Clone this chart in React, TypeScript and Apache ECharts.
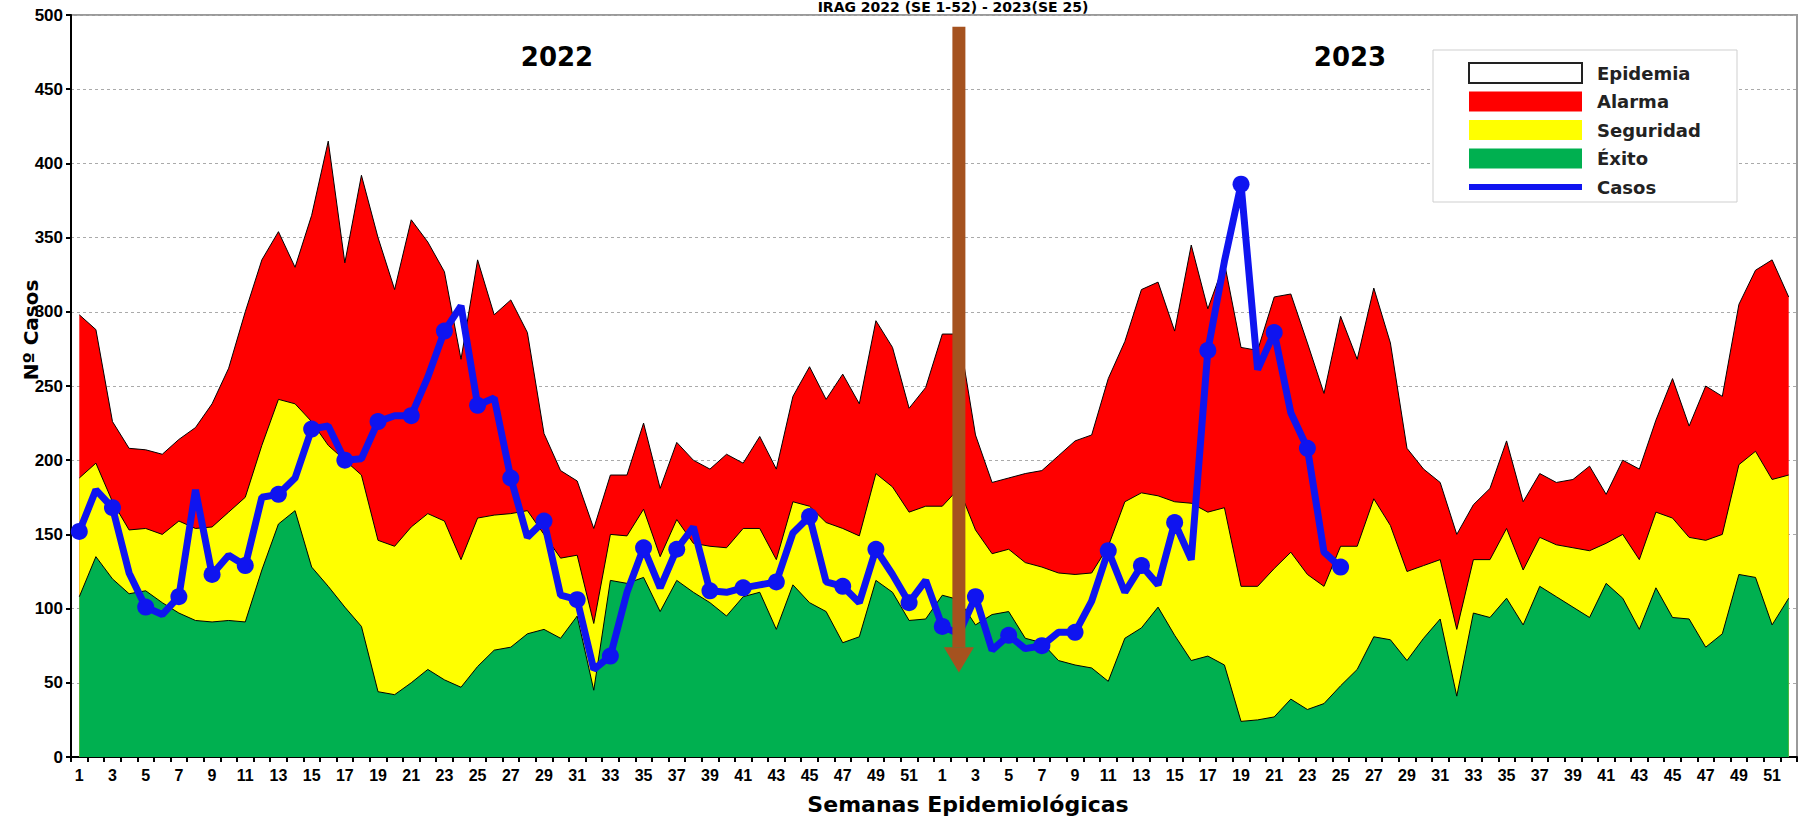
import React, { useEffect, useRef } from "react";
import * as echarts from "echarts";

// ---- categories / tick labels ----
const WEEKS = Array.from({ length: 52 }, (_, i) => String(i + 1));
const YEARS = ["2022", "2023"];
const categories = YEARS.flatMap((y) => WEEKS.map((w) => `${y}-${w}`));

// ---- channel boundaries (cumulative tops) ----
const exito2022 = [108, 135, 120, 110, 112, 104, 97, 92, 91, 92, 91, 126, 157,
  166, 128, 115, 101, 88, 44, 42, 50, 59, 52, 47, 61, 72,
  74, 83, 86, 80, 95, 45, 119, 117, 121, 98, 119, 111, 104,
  95, 108, 111, 86, 116, 104, 98, 77, 81, 119, 111, 92, 93];
const exito2023 = [109, 106, 89, 96, 98, 80, 77, 65, 62, 60, 51, 80, 87,
  101, 82, 65, 68, 62, 24, 25, 27, 39, 32, 36, 48, 59,
  81, 79, 65, 80, 93, 41, 97, 94, 107, 89, 115, 108, 101,
  94, 117, 107, 86, 114, 94, 93, 74, 83, 123, 121, 89, 107];

const seguridad2022 = [188, 198, 172, 153, 154, 150, 159, 154, 155, 165, 175, 210, 241,
  238, 226, 210, 200, 190, 146, 142, 155, 164, 159, 133, 161, 163,
  164, 166, 150, 134, 136, 90, 150, 149, 167, 135, 160, 144, 142,
  141, 154, 154, 133, 172, 169, 158, 154, 149, 191, 182, 165, 169];
const seguridad2023 = [169, 181, 153, 137, 140, 131, 128, 124, 123, 124, 142, 172, 178,
  176, 172, 171, 165, 168, 115, 115, 127, 138, 123, 115, 142, 142,
  174, 156, 125, 129, 133, 86, 133, 133, 154, 126, 148, 143, 141,
  139, 144, 150, 133, 165, 161, 148, 146, 150, 197, 206, 187, 190];

const alarma2022 = [298, 288, 226, 208, 207, 204, 214, 222, 238, 262, 300, 335, 354,
  330, 365, 415, 333, 392, 350, 315, 362, 347, 327, 268, 335, 298,
  308, 286, 218, 193, 186, 154, 190, 190, 225, 181, 212, 200, 194,
  204, 198, 216, 194, 243, 263, 241, 258, 238, 294, 276, 235, 249];
const alarma2023 = [285, 285, 217, 185, 188, 191, 193, 203, 213, 217, 255, 280, 315,
  320, 287, 345, 302, 333, 276, 274, 310, 312, 279, 245, 297, 268,
  316, 279, 208, 194, 185, 150, 170, 181, 213, 172, 191, 185, 187,
  196, 177, 200, 194, 227, 255, 223, 250, 243, 305, 328, 335, 310];

// ---- observed cases ----
const casos2022 = [152, 180, 168, 124, 101, 96, 108, 180, 123, 136, 129, 175, 177,
  188, 221, 223, 200, 201, 226, 230, 230, 256, 287, 304, 237, 242,
  188, 148, 159, 109, 106, 59, 68, 111, 141, 114, 140, 155, 112,
  111, 114, 116, 118, 151, 162, 118, 115, 104, 140, 123, 104, 119];
const casos2023 = [88, 83, 108, 72, 82, 73, 75, 84, 84, 105, 139, 111, 129,
  116, 158, 133, 274, 334, 386, 261, 286, 232, 208, 138, 128];

const legendNames = ["Epidemia", "Alarma", "Seguridad", "Éxito", "Casos"];
const COLORS = { epidemia: "#ffffff", alarma: "#ff0000", seguridad: "#ffff00", exito: "#00b050", casos: "#0f14f0" };

const TITLE = "IRAG 2022 (SE 1-52) - 2023(SE 25)";
const ARROW_WEEK = "2023-2";

export default function App() {
  const ref = useRef<HTMLDivElement>(null);
  useEffect(() => {
    document.body.style.margin = "0";
    const chart = echarts.init(ref.current!, null, { renderer: "svg" });
    const FONT = "DejaVu Sans";
    const exito = [...exito2022, ...exito2023];
    const seguridad = [...seguridad2022, ...seguridad2023];
    const alarma = [...alarma2022, ...alarma2023];
    const casos: (number | null)[] = [...casos2022, ...casos2023];
    while (casos.length < categories.length) casos.push(null);

    const legendColors = [COLORS.epidemia, COLORS.alarma, COLORS.seguridad, COLORS.exito, COLORS.casos];
    const legendEls: any[] = [
      { type: "rect", shape: { x: 1433, y: 50, width: 304, height: 152 }, style: { fill: "#fff", stroke: "#cfcfcf", lineWidth: 1 }, z: 100 },
    ];
    legendNames.forEach((n, i) => {
      const cy = 73 + i * 28.5;
      const isLine = i === 4;
      legendEls.push({
        type: "rect",
        shape: { x: 1469, y: isLine ? cy - 3 : cy - 10, width: 113, height: isLine ? 6 : 20 },
        style: { fill: legendColors[i], stroke: i === 0 ? "#222" : null, lineWidth: i === 0 ? 2 : 0 },
        z: 101,
      });
      legendEls.push({
        type: "text", x: 1597, y: cy,
        style: { text: n, fill: "#222", font: `bold 18px "${FONT}"`, textVerticalAlign: "middle", textAlign: "left" },
        z: 101,
      });
    });

    const option: any = {
      animation: false,
      backgroundColor: "#fff",
      grid: { left: 71, right: 4, top: 15, bottom: 62, show: true, borderColor: "#9a9a9a", borderWidth: 2 },
      xAxis: {
        type: "category", data: categories, boundaryGap: true,
        axisLine: { lineStyle: { color: "#000", width: 2 } },
        axisTick: { show: true, interval: 0, length: 5, lineStyle: { color: "#000", width: 2 } },
        axisLabel: {
          interval: 1, margin: 10, color: "#000", fontFamily: "Liberation Sans", fontWeight: "bold", fontSize: 16,
          formatter: (v: string) => v.split("-")[1],
        },
        splitLine: { show: false },
      },
      yAxis: {
        type: "value", min: 0, max: 500, interval: 50,
        axisLine: { show: true, lineStyle: { color: "#000", width: 2 } },
        axisTick: { show: true, length: 5, lineStyle: { color: "#000", width: 2 } },
        axisLabel: { margin: 8, color: "#000", fontFamily: "Liberation Sans", fontWeight: "bold", fontSize: 17 },
        splitLine: { show: true, lineStyle: { color: "#aaaaaa", type: [3, 3], width: 1 } },
      },
      series: [
        { name: "Epidemia", type: "line", data: [], symbol: "none" },
        { name: "Alarma", type: "line", data: alarma, symbol: "none", z: 2,
          lineStyle: { color: "#000", width: 1 }, areaStyle: { color: COLORS.alarma, opacity: 1 } },
        { name: "Seguridad", type: "line", data: seguridad, symbol: "none", z: 3,
          lineStyle: { color: "#000", width: 1 }, areaStyle: { color: COLORS.seguridad, opacity: 1 } },
        { name: "Éxito", type: "line", data: exito, symbol: "none", z: 4,
          lineStyle: { color: "#000", width: 1 }, areaStyle: { color: COLORS.exito, opacity: 1 } },
        { name: "Casos", type: "line", data: casos, symbol: "circle", symbolSize: 17, z: 10,
          itemStyle: { color: COLORS.casos }, lineStyle: { color: COLORS.casos, width: 7 } },
      ],
      graphic: [
        { id: "title", type: "text", x: 953, y: 0, z: 50,
          style: { text: TITLE, fill: "#000", font: `bold 14px "${FONT}"`, textAlign: "center", textVerticalAlign: "top" } },
        { id: "y2022", type: "text", x: 557, y: 57, z: 50,
          style: { text: "2022", fill: "#000", font: `bold 26px "${FONT}"`, textAlign: "center", textVerticalAlign: "middle" } },
        { id: "y2023", type: "text", x: 1350, y: 57, z: 50,
          style: { text: "2023", fill: "#000", font: `bold 26px "${FONT}"`, textAlign: "center", textVerticalAlign: "middle" } },
        { id: "yname", type: "text", x: 31, y: 330, rotation: Math.PI / 2, z: 50,
          style: { text: "Nº Casos", fill: "#000", font: `bold 20px "${FONT}"`, textAlign: "center", textVerticalAlign: "middle" } },
        { id: "xname", type: "text", x: 968, y: 804, z: 50,
          style: { text: "Semanas Epidemiológicas", fill: "#000", font: `bold 22px "${FONT}"`, textAlign: "center", textVerticalAlign: "middle" } },
        ...legendEls,
      ],
    };
    chart.setOption(option);

    const ax = chart.convertToPixel({ xAxisIndex: 0 }, ARROW_WEEK) as number;
    const yTop = chart.convertToPixel({ yAxisIndex: 0 }, 492) as number;
    const yHead = chart.convertToPixel({ yAxisIndex: 0 }, 74) as number;
    const yTip = chart.convertToPixel({ yAxisIndex: 0 }, 57) as number;
    const brown = "#a5521f";
    chart.setOption({
      graphic: [
        { id: "arrowShaft", type: "rect", z: 60, shape: { x: ax - 6.5, y: yTop, width: 13, height: yHead - yTop }, style: { fill: brown } },
        { id: "arrowHead", type: "polygon", z: 60, shape: { points: [[ax - 15, yHead], [ax + 15, yHead], [ax, yTip]] }, style: { fill: brown } },
      ],
    });

    return () => chart.dispose();
  }, []);
  return <div ref={ref} style={{ width: 1801, height: 819 }} />;
}
